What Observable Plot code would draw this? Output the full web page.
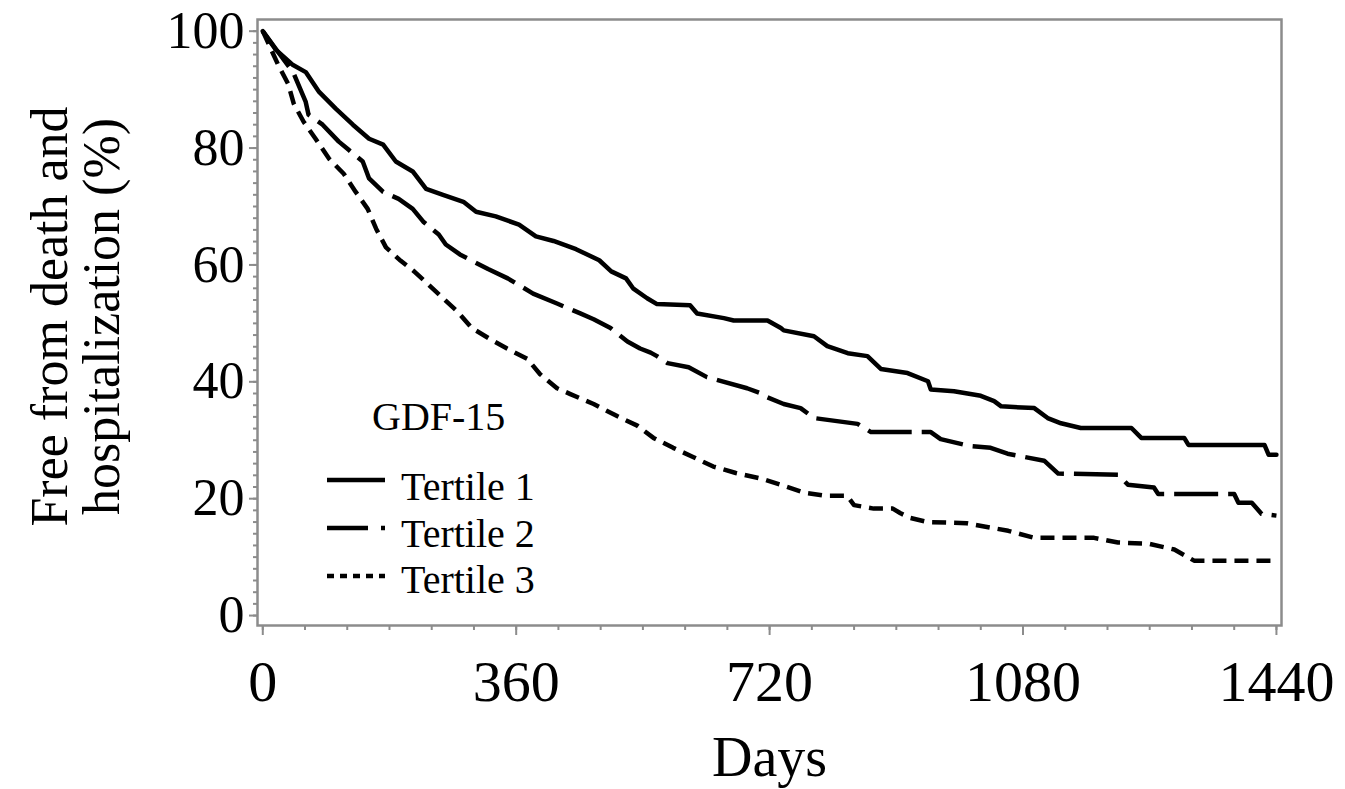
<!DOCTYPE html>
<html><head><meta charset="utf-8">
<script src="https://cdn.jsdelivr.net/npm/d3@7"></script>
<script src="https://cdn.jsdelivr.net/npm/@observablehq/plot@0.6"></script>
<style>html,body{margin:0;padding:0;background:#fff;} #chart svg{display:block;}</style>
</head><body><div id="chart"></div>
<script>
// Tertile 1 (solid)
const t1Days = [0,18,43,61,80,104,128,151,171,189,213,232,256,285,303,331,364,388,413,445,478,495,516,526,546,560,607,617,655,669,717,736,740,783,802,831,859,878,916,945,949,982,1020,1039,1049,1096,1115,1134,1162,1234,1248,1309,1315,1423,1429,1440];
const t1Surv = [100,96.9,94.2,93.0,89.6,86.7,84.0,81.6,80.6,77.7,76.0,73.0,72.0,70.8,69.1,68.3,66.9,64.9,64.1,62.7,60.8,58.9,57.7,56.0,54.3,53.3,53.1,51.7,50.9,50.5,50.5,49.2,48.8,47.8,46.1,44.9,44.4,42.2,41.5,40.1,38.7,38.4,37.6,36.7,35.8,35.5,33.8,32.9,32.1,32.1,30.4,30.4,29.2,29.2,27.5,27.5];
// Tertile 2 (long dash)
const t2Days = [0,22,43,61,65,85,108,122,142,151,171,193,213,228,250,260,280,320,348,384,418,451,470,494,518,536,551,560,575,605,631,688,711,714,740,764,783,845,864,949,963,1005,1034,1058,1110,1130,1215,1229,1266,1272,1380,1386,1405,1419,1440];
const t2Surv = [100,96.4,93.0,87.9,85.7,84.0,81.1,79.7,77.7,74.8,72.5,71.3,69.6,67.4,65.2,63.5,61.8,59.3,57.7,55.1,53.4,51.7,50.7,49.2,46.9,45.7,45.0,44.4,43.2,42.5,40.8,38.9,37.9,37.5,36.2,35.5,33.8,32.8,31.4,31.4,30.2,29.0,28.7,27.7,26.5,24.3,24.1,22.4,21.9,20.8,20.8,19.3,19.3,17.4,17.1];
// Tertile 3 (short dash)
const t3Days = [0,22,36,44,58,75,94,115,132,149,161,175,196,215,233,256,276,297,323,347,376,394,418,437,470,504,532,555,583,612,640,672,709,740,770,800,830,840,868,895,906,920,945,1000,1059,1096,1181,1215,1258,1295,1323,1440];
const t3Surv = [100,94.2,91.0,87.6,84.5,81.6,78.2,75.6,72.5,69.6,66.2,63.0,60.7,58.9,56.9,54.3,52.1,49.2,47.3,45.7,43.9,41.3,38.9,37.9,36.2,34.1,32.5,30.4,28.7,27.1,25.5,24.4,23.4,22.2,21.0,20.5,20.5,18.9,18.3,18.3,17.5,16.7,16.0,15.8,14.5,13.3,13.3,12.5,12.3,11.3,9.4,9.4];

const xTicks = [0,360,720,1080,1440];
const yTicks = [0,20,40,60,80,100];
const xMinorStep = 60;
const yMinorStep = 2;
const xLabel = "Days";
const yLabel = "Free from death and\nhospitalization (%)";
const legendTitle = "GDF-15";
const seriesNames = ["Tertile 1","Tertile 2","Tertile 3"];

const toRows = (days, surv) => days.map((d, i) => ({day: d, surv: surv[i]}));
const gray = "#8c8c8c";
const serif = "'Liberation Serif','Times New Roman',serif";

const chart = Plot.plot({
  width: 1345, height: 789,
  marginLeft: 257, marginRight: 64, marginTop: 19, marginBottom: 164,
  style: {fontFamily: serif, background: "#fff", color: "#000"},
  x: {domain: [-7.5, 1447.2], axis: null},
  y: {domain: [-1.7, 102], axis: null},
  marks: [
    Plot.axisY({ticks: d3.range(0, 101, yMinorStep), tickSize: 4, tickFormat: () => "", stroke: gray, strokeWidth: 2, label: null}),
    Plot.axisY({ticks: yTicks, tickSize: 8, tickPadding: 5, fontSize: 52, stroke: gray, strokeWidth: 2, fill: "#000", label: null, tickFormat: d => String(d)}),
    Plot.axisX({ticks: d3.range(0, 1441, xMinorStep), tickSize: 5, tickFormat: () => "", stroke: gray, strokeWidth: 2, label: null}),
    Plot.axisX({ticks: xTicks, tickSize: 10, tickPadding: 24, fontSize: 58, stroke: gray, strokeWidth: 2, fill: "#000", label: null, tickFormat: d => String(d)}),
    Plot.frame({stroke: gray, strokeWidth: 2.5}),
    Plot.line(toRows(t3Days, t3Surv), {x: "day", y: "surv", stroke: "#000", strokeWidth: 4.5, strokeDasharray: "14,8", strokeLinecap: "butt"}),
    Plot.line(toRows(t2Days, t2Surv), {x: "day", y: "surv", stroke: "#000", strokeWidth: 4.5, strokeDasharray: "44,10", strokeLinecap: "butt"}),
    Plot.line(toRows(t1Days, t1Surv), {x: "day", y: "surv", stroke: "#000", strokeWidth: 4.5}),
    Plot.text([xLabel], {frameAnchor: "bottom", dy: 133, fontSize: 56, lineAnchor: "middle", textAnchor: "middle"}),
    Plot.text([yLabel], {frameAnchor: "left", dx: -181, dy: -6, rotate: -90, fontSize: 52, lineAnchor: "middle", textAnchor: "middle", lineHeight: 1})
  ]
});

// Legend drawn inside the plot area
const svg = d3.select(chart);
const lg = svg.append("g").attr("font-family", serif).attr("fill", "#000").attr("text-anchor", "start");
lg.append("text").attr("x", 372).attr("y", 430).attr("font-size", 40).text(legendTitle);
const rowsY = [480, 528, 576];
const baseY = [500, 547, 593];
lg.append("line").attr("x1", 327).attr("x2", 385).attr("y1", rowsY[0]).attr("y2", rowsY[0]).attr("stroke", "#000").attr("stroke-width", 4.5);
lg.append("line").attr("x1", 327).attr("x2", 385).attr("y1", rowsY[1]).attr("y2", rowsY[1]).attr("stroke", "#000").attr("stroke-width", 4.5).attr("stroke-dasharray", "41,13,4,20");
lg.append("line").attr("x1", 327).attr("x2", 385).attr("y1", rowsY[2]).attr("y2", rowsY[2]).attr("stroke", "#000").attr("stroke-width", 4.5).attr("stroke-dasharray", "7,6");
seriesNames.forEach((s, i) => {
  lg.append("text").attr("x", 401).attr("y", baseY[i]).attr("font-size", 40).text(s);
});

document.getElementById("chart").appendChild(chart);
</script>
</body></html>
